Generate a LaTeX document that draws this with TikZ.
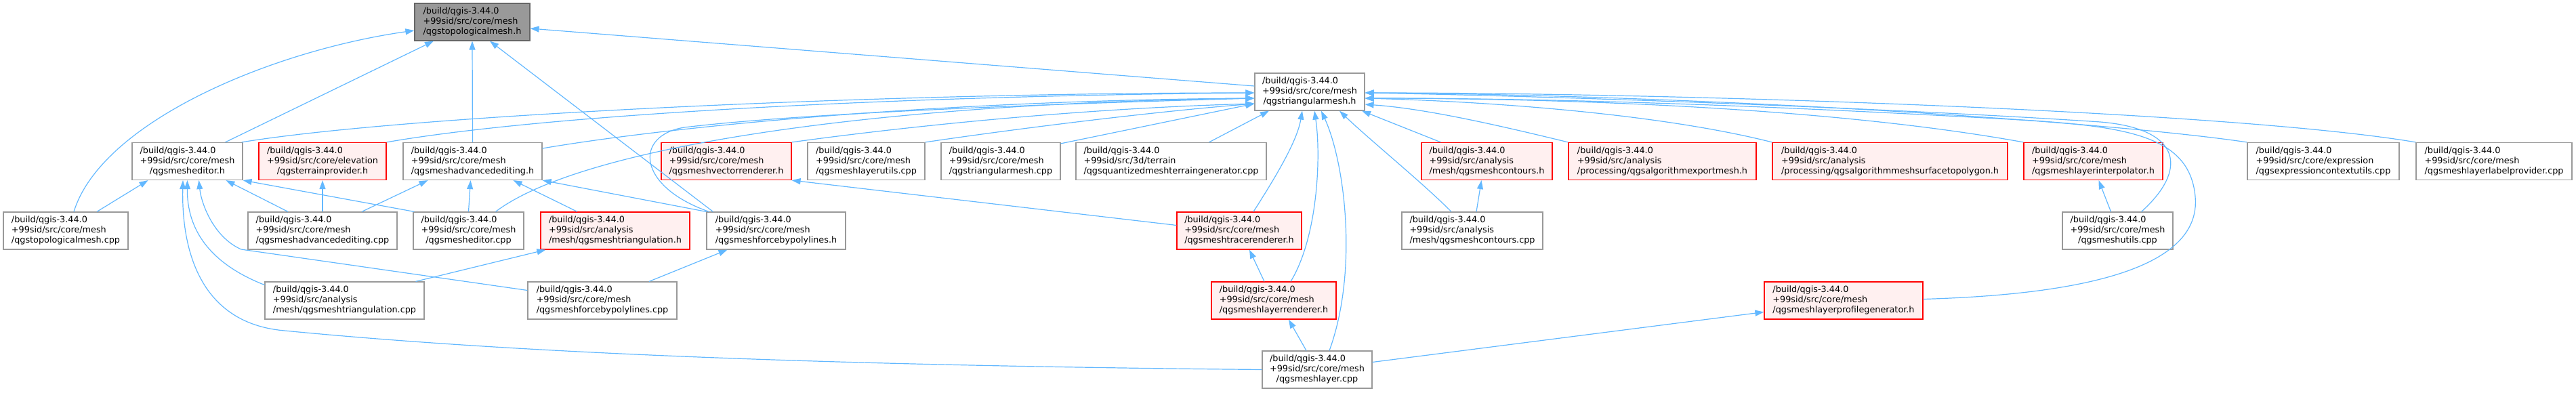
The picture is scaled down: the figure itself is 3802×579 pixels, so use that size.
\documentclass[tikz,border=0pt]{standalone}
\usepackage{fontspec}
\setmainfont{DejaVu Sans}
\usepackage{xcolor}
\usepackage{tikz}
\usetikzlibrary{arrows.meta, positioning}
\definecolor{edgeblue}{HTML}{63B8FF}
\definecolor{nodegrey}{HTML}{999999}
\definecolor{rootgrey}{HTML}{666666}
\definecolor{redfill}{HTML}{FFF0F0}
\newcommand{\filelabel}[3]{\begin{tabular}{@{}l@{}}#1\\#2\\\multicolumn{1}{@{}c@{}}{#3}\end{tabular}}
\tikzstyle{filebox} = [rectangle, draw=nodegrey, fill=white, line width=1.2pt, inner sep=0pt, minimum height=55pt, font=\fontsize{12.8}{15}\selectfont]
\tikzstyle{filered} = [filebox, draw=red, fill=redfill]
\tikzstyle{fileroot} = [filebox, draw=rootgrey, fill=nodegrey]
\tikzstyle{arrow} = [draw=edgeblue, line width=1.2pt, -{Triangle[length=13pt,width=9pt]}]

\begin{document}
\begin{tikzpicture}[x=1pt, y=-1pt]
    \useasboundingbox (0,0) rectangle (3802,579);

    \node[fileroot, minimum width=170pt] (topoh) at (697,32.5) {\filelabel{/build/qgis-3.44.0}{+99sid/src/core/mesh}{/qgstopologicalmesh.h}};
    \node[filebox, minimum width=162pt] (trimeshh) at (1933,135.5) {\filelabel{/build/qgis-3.44.0}{+99sid/src/core/mesh}{/qgstriangularmesh.h}};

    \node[filebox, minimum width=163pt] (editorh) at (276.5,238) {\filelabel{/build/qgis-3.44.0}{+99sid/src/core/mesh}{/qgsmesheditor.h}};
    \node[filered, minimum width=188pt] (terrainh) at (476,238) {\filelabel{/build/qgis-3.44.0}{+99sid/src/core/elevation}{/qgsterrainprovider.h}};
    \node[filebox, minimum width=205pt] (advh) at (697.5,238) {\filelabel{/build/qgis-3.44.0}{+99sid/src/core/mesh}{/qgsmeshadvancedediting.h}};
    \node[filered, minimum width=192pt] (vectorh) at (1072,238) {\filelabel{/build/qgis-3.44.0}{+99sid/src/core/mesh}{/qgsmeshvectorrenderer.h}};
    \node[filebox, minimum width=173pt] (layerutilscpp) at (1278.5,238) {\filelabel{/build/qgis-3.44.0}{+99sid/src/core/mesh}{/qgsmeshlayerutils.cpp}};
    \node[filebox, minimum width=176pt] (trimeshcpp) at (1477,238) {\filelabel{/build/qgis-3.44.0}{+99sid/src/core/mesh}{/qgstriangularmesh.cpp}};
    \node[filebox, minimum width=281pt] (quantcpp) at (1728.5,238) {\filelabel{/build/qgis-3.44.0}{+99sid/src/3d/terrain}{/qgsquantizedmeshterraingenerator.cpp}};
    \node[filered, minimum width=193pt] (contoursh) at (2194.5,238) {\filelabel{/build/qgis-3.44.0}{+99sid/src/analysis}{/mesh/qgsmeshcontours.h}};
    \node[filered, minimum width=277pt] (exporth) at (2453.5,238) {\filelabel{/build/qgis-3.44.0}{+99sid/src/analysis}{/processing/qgsalgorithmexportmesh.h}};
    \node[filered, minimum width=347pt] (surfh) at (2789.5,238) {\filelabel{/build/qgis-3.44.0}{+99sid/src/analysis}{/processing/qgsalgorithmmeshsurfacetopolygon.h}};
    \node[filered, minimum width=205pt] (interph) at (3089.5,238) {\filelabel{/build/qgis-3.44.0}{+99sid/src/core/mesh}{/qgsmeshlayerinterpolator.h}};
    \node[filebox, minimum width=224pt] (exprcpp) at (3429,238) {\filelabel{/build/qgis-3.44.0}{+99sid/src/core/expression}{/qgsexpressioncontextutils.cpp}};
    \node[filebox, minimum width=230pt] (labelcpp) at (3681,238) {\filelabel{/build/qgis-3.44.0}{+99sid/src/core/mesh}{/qgsmeshlayerlabelprovider.cpp}};

    \node[filebox, minimum width=184pt] (topocpp) at (97,340.5) {\filelabel{/build/qgis-3.44.0}{+99sid/src/core/mesh}{/qgstopologicalmesh.cpp}};
    \node[filebox, minimum width=220pt] (advcpp) at (476,340.5) {\filelabel{/build/qgis-3.44.0}{+99sid/src/core/mesh}{/qgsmeshadvancedediting.cpp}};
    \node[filebox, minimum width=163pt] (editorcpp) at (691.5,340.5) {\filelabel{/build/qgis-3.44.0}{+99sid/src/core/mesh}{/qgsmesheditor.cpp}};
    \node[filered, minimum width=220pt] (triangh) at (908,340.5) {\filelabel{/build/qgis-3.44.0}{+99sid/src/analysis}{/mesh/qgsmeshtriangulation.h}};
    \node[filebox, minimum width=205pt] (forceh) at (1145.5,340.5) {\filelabel{/build/qgis-3.44.0}{+99sid/src/core/mesh}{/qgsmeshforcebypolylines.h}};
    \node[filered, minimum width=184pt] (tracerh) at (1829,340.5) {\filelabel{/build/qgis-3.44.0}{+99sid/src/core/mesh}{/qgsmeshtracerenderer.h}};
    \node[filebox, minimum width=208pt] (contourscpp) at (2173,340.5) {\filelabel{/build/qgis-3.44.0}{+99sid/src/analysis}{/mesh/qgsmeshcontours.cpp}};
    \node[filebox, minimum width=163pt] (meshutilscpp) at (3125.5,340.5) {\filelabel{/build/qgis-3.44.0}{+99sid/src/core/mesh}{/qgsmeshutils.cpp}};

    \node[filebox, minimum width=235pt] (triangcpp) at (508.5,443.5) {\filelabel{/build/qgis-3.44.0}{+99sid/src/analysis}{/mesh/qgsmeshtriangulation.cpp}};
    \node[filebox, minimum width=220pt] (forcecpp) at (889,443.5) {\filelabel{/build/qgis-3.44.0}{+99sid/src/core/mesh}{/qgsmeshforcebypolylines.cpp}};
    \node[filered, minimum width=184pt] (layerrendh) at (1880,443.5) {\filelabel{/build/qgis-3.44.0}{+99sid/src/core/mesh}{/qgsmeshlayerrenderer.h}};
    \node[filered, minimum width=234pt] (profileh) at (2721,443.5) {\filelabel{/build/qgis-3.44.0}{+99sid/src/core/mesh}{/qgsmeshlayerprofilegenerator.h}};

    \node[filebox, minimum width=162pt] (layercpp) at (1944,545.5) {\filelabel{/build/qgis-3.44.0}{+99sid/src/core/mesh}{/qgsmeshlayer.cpp}};

    \draw[arrow] ([xshift=12pt]topocpp.north) .. controls (150,180) and (400,75) .. ([yshift=-12.5pt]topoh.west);
    \draw[arrow] ([xshift=56pt]editorh.north) -- ([xshift=-57pt]topoh.south);
    \draw[arrow] (advh.north) -- (topoh.south);
    \draw[arrow] ([xshift=10pt]forceh.north west) -- ([xshift=26pt]topoh.south);
    \draw[arrow] ([yshift=8.5pt]trimeshh.west) -- ([yshift=-9.5pt]topoh.east);

    \draw[arrow] ([xshift=46pt]topocpp.north) -- ([xshift=-58pt]editorh.south);
    \draw[arrow] ([xshift=-51pt]advcpp.north) -- ([xshift=57pt]editorh.south);
    \draw[arrow] ([xshift=2pt]editorcpp.north west) -- (editorh.south east);
    \draw[arrow] ([yshift=23pt]triangcpp.west) .. controls (300,385) and (276,330) .. (editorh.south);
    \draw[arrow] ([yshift=15pt]forcecpp.west) -- (356,368) .. controls (315,350) and (297,300) .. ([xshift=17pt]editorh.south);
    \draw[arrow] (layercpp.west) .. controls (1300,540) and (800,525) .. (420,488) .. controls (290,477) and (268,360) .. ([xshift=-6.5pt]editorh.south);

    \draw[arrow] (advcpp.north) -- (terrainh.south);
    \draw[arrow] ([xshift=58pt]advcpp.north) -- ([xshift=-66pt]advh.south);
    \draw[arrow] (editorcpp.north) -- ([xshift=-3pt]advh.south);
    \draw[arrow] ([xshift=-56pt]triangh.north) -- ([xshift=60pt]advh.south);
    \draw[arrow] (forceh.north west) -- (advh.south east);

    \draw[arrow] ([xshift=105pt]triangcpp.north) -- ([xshift=8pt]triangh.south west);
    \draw[arrow] ([xshift=69pt]forcecpp.north) -- ([xshift=-72pt]forceh.south);
    \draw[arrow] ([yshift=8pt]tracerh.west) -- (vectorh.south east);
    \draw[arrow] ([xshift=-14pt]layerrendh.north) -- ([xshift=15pt]tracerh.south);
    \draw[arrow] ([xshift=-16pt]layercpp.north) -- ([xshift=22pt]layerrendh.south);
    \draw[arrow] ([xshift=6pt]contourscpp.north) -- ([xshift=-8pt]contoursh.south);
    \draw[arrow] ([xshift=-10pt]meshutilscpp.north) -- ([xshift=8pt]interph.south);
    \draw[arrow] ([yshift=11pt]layercpp.east) -- ([yshift=-17pt]profileh.west);

    \draw[arrow] ([xshift=-2pt]editorh.north east) .. controls (600,170) and (1300,137) .. ([yshift=-1.5pt]trimeshh.west);
    \draw[arrow] (terrainh.north east) .. controls (800,170) and (1300,142) .. ([yshift=-1.5pt]trimeshh.west);
    \draw[arrow] ([yshift=19pt]advh.east) .. controls (1000,185) and (1400,148) .. ([yshift=-9.5pt]trimeshh.west);
    \draw[arrow] ([xshift=40pt]editorcpp.north) .. controls (860,215) and (1300,152) .. ([yshift=-9.5pt]trimeshh.west);
    \draw[arrow] ([xshift=4pt]forceh.north west) .. controls (940,275) and (935,200) .. (1010,188) .. controls (1200,165) and (1600,152) .. ([yshift=-9.5pt]trimeshh.west);
    \draw[arrow] (vectorh.north east) .. controls (1350,185) and (1600,160) .. ([yshift=-17.5pt]trimeshh.west);
    \draw[arrow] (layerutilscpp.north east) .. controls (1500,190) and (1700,165) .. ([yshift=-17.5pt]trimeshh.west);
    \draw[arrow] ([yshift=-2pt]trimeshcpp.north east) -- ([yshift=-17.5pt]trimeshh.west);

    \draw[arrow] ([xshift=56pt]quantcpp.north) -- ([xshift=-60pt]trimeshh.south);
    \draw[arrow] ([xshift=21pt]tracerh.north) .. controls (1890,250) and (1915,205) .. ([xshift=-11pt]trimeshh.south);
    \draw[arrow] ([xshift=25pt]layerrendh.north) .. controls (1945,350) and (1950,230) .. ([xshift=7pt]trimeshh.south);
    \draw[arrow] ([xshift=18pt]layercpp.north) .. controls (2005,400) and (1985,240) .. ([xshift=17pt]trimeshh.south);
    \draw[arrow] ([xshift=-31pt]contourscpp.north) .. controls (2100,270) and (2020,205) .. ([xshift=44pt]trimeshh.south);
    \draw[arrow] ([xshift=-68pt]contoursh.north) -- ([xshift=77pt]trimeshh.south);

    \draw[arrow] (exporth.north west) .. controls (2200,182) and (2100,160) .. ([yshift=-18.5pt]trimeshh.east);
    \draw[arrow] (surfh.north west) .. controls (2450,168) and (2200,150) .. ([yshift=-9.5pt]trimeshh.east);
    \draw[arrow] (interph.north west) .. controls (2700,158) and (2300,145) .. ([yshift=-9.5pt]trimeshh.east);
    \draw[arrow] (exprcpp.north west) .. controls (3100,178) and (2500,140) .. ([yshift=-1.5pt]trimeshh.east);
    \draw[arrow] (labelcpp.north west) .. controls (3300,165) and (2500,137) .. ([yshift=-1.5pt]trimeshh.east);
    \draw[arrow] ([xshift=35pt]meshutilscpp.north) .. controls (3230,250) and (3220,190) .. (3100,180) .. controls (2800,160) and (2300,142) .. ([yshift=-1.5pt]trimeshh.east);
    \draw[arrow] ([yshift=2pt]profileh.east) .. controls (3060,435) and (3250,400) .. (3240,290) .. controls (3232,205) and (3150,188) .. (3000,178) .. controls (2600,155) and (2300,145) .. ([yshift=-9.5pt]trimeshh.east);
\end{tikzpicture}
\end{document}
